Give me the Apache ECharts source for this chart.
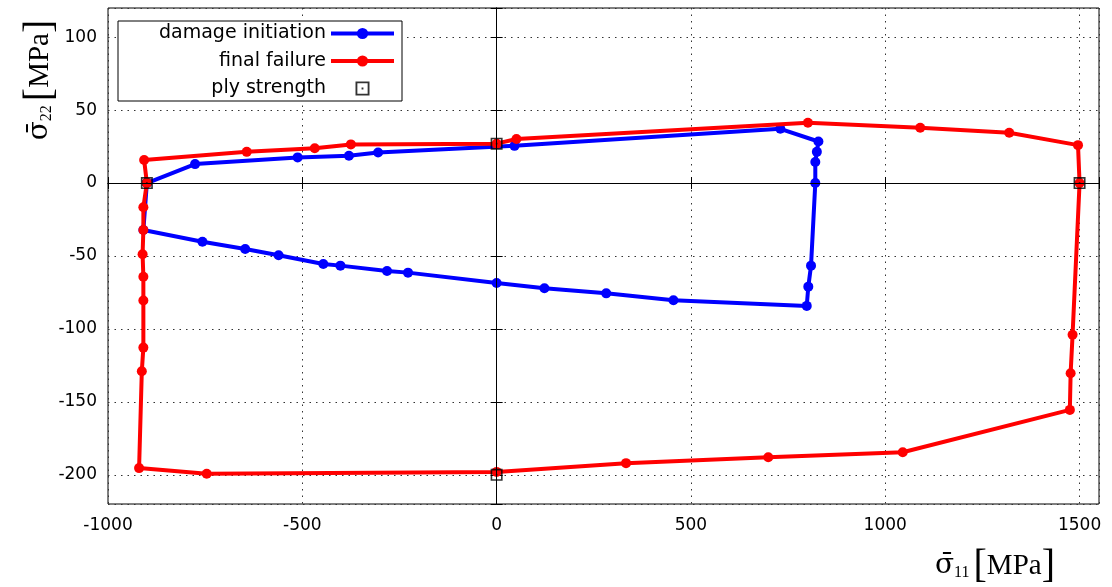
<!DOCTYPE html>
<html><head><meta charset="utf-8">
<script src="https://cdn.jsdelivr.net/npm/echarts@6/dist/echarts.min.js"></script>
<style>html,body{margin:0;padding:0;background:#fff}#c{width:1112px;height:587px}</style>
</head><body><div id="c"></div>
<script>
// ---- data ----
const xTicks = [-1000, -500, 0, 500, 1000, 1500];
const yTicks = [100, 50, 0, -50, -100, -150, -200];
const seriesNames = ['damage initiation', 'final failure', 'ply strength'];

const damageInitiation = [
  [-900,0],[-776,13],[-512,17.6],[-380,18.7],[-305,21],[46,25.5],[730,37.2],
  [828,28.5],[824,21.4],[820,14.4],[820,0],[809,-56.6],[802,-71],[798,-84.2],
  [455,-80.3],[282,-75.6],[123,-72.1],[0,-68.5],[-228,-61.4],[-282,-60.3],
  [-402,-56.6],[-446,-55.5],[-561,-49.5],[-647,-45.2],[-757,-40.2],[-909,-32.2],[-900,0]
];
const finalFailure = [
  [-900,0],[-907,15.8],[-643,21.4],[-468,23.8],[-375,26.5],[0,27],[51,30.2],
  [801,41.3],[1090,37.9],[1319,34.5],[1496,26],[1500,0],[1482,-104],[1477,-130.4],
  [1475,-155.5],[1045,-184.5],[699,-188],[333,-192],[0,-198],[-746,-199.3],
  [-920,-195.4],[-913,-129],[-909,-112.8],[-909,-80.5],[-909,-64.2],[-911,-48.8],
  [-909,-32.2],[-909,-16.6],[-900,0]
];
const plyStrength = [[-900,0],[0,27],[1500,0],[0,-200]];

// ---- chart ----
const chart = echarts.init(document.getElementById('c'), null, {renderer:'canvas'});
const sq = 'path://M0,0L12,0L12,1.6L0,1.6Z M0,10.4L12,10.4L12,12L0,12Z M0,1.6L1.6,1.6L1.6,10.4L0,10.4Z M10.4,1.6L12,1.6L12,10.4L10.4,10.4Z M5.2,5.2L6.8,5.2L6.8,6.8L5.2,6.8Z';
const tickFont = {fontFamily:'DejaVu Sans', fontSize:17, color:'#000'};
const gridDots = {show:true, lineStyle:{color:'#333', type:[1.5,5], width:1}};
const nameRich = {
  sig:{fontFamily:'DejaVu Serif', fontSize:28, color:'#000'},
  sub:{fontFamily:'Liberation Serif', fontSize:16, color:'#000', padding:[14,4,0,0]},
  br:{fontFamily:'Liberation Serif', fontSize:40, color:'#000', fontWeight:'lighter'},
  t:{fontFamily:'Liberation Serif', fontSize:29, color:'#000'}
};

chart.setOption({
  animation:false,
  backgroundColor:'#fff',
  grid:{left:108, right:13, top:8, bottom:83, show:true, borderColor:'#000', borderWidth:1},
  legend:{
    orient:'vertical', left:118, top:21, align:'right',
    padding:[3,6,3,8], itemGap:8.5, itemWidth:63, itemHeight:14,
    backgroundColor:'#fff', borderColor:'#000', borderWidth:1,
    lineStyle:{width:4},
    textStyle:{fontFamily:'DejaVu Sans', fontSize:19, lineHeight:19, color:'#000', width:200, align:'right'},
    data:seriesNames
  },
  xAxis:[
    {type:'value', min:-1000, max:1550, interval:500, position:'bottom',
     axisLine:{show:true, lineStyle:{color:'#000', width:1}},
     axisTick:{show:true, inside:true, length:6, lineStyle:{color:'#000'}},
     axisLabel:Object.assign({margin:13, formatter:v => xTicks.includes(v) ? String(v) : ''}, tickFont),
     splitLine:gridDots},
    {type:'value', min:-1000, max:1550, interval:500, position:'top',
     axisLine:{show:true, lineStyle:{color:'#000', width:1}},
     axisTick:{show:true, inside:true, length:6, lineStyle:{color:'#000'}},
     axisLabel:{show:false}, splitLine:{show:false}}
  ],
  yAxis:[
    {type:'value', min:-220, max:120, splitNumber:7, position:'left',
     axisLine:{show:true, lineStyle:{color:'#000', width:1}},
     axisTick:{show:true, inside:true, length:6, lineStyle:{color:'#000'}},
     axisLabel:Object.assign({margin:11, formatter:v => yTicks.includes(v) ? String(v) : ''}, tickFont),
     splitLine:gridDots},
    {type:'value', min:-220, max:120, splitNumber:7, position:'right',
     axisLine:{show:true, lineStyle:{color:'#000', width:1}},
     axisTick:{show:true, inside:true, length:6, lineStyle:{color:'#000'}},
     axisLabel:{show:false}, splitLine:{show:false}}
  ],
  graphic:[
    {type:'text', x:935, y:566, z:10, style:{
      text:'{sig|σ\u0304}{sub|11}{br|[}{t|MPa}{br|]}', rich:nameRich, align:'left', verticalAlign:'middle'}},
    {type:'text', x:40, y:80, rotation:Math.PI/2, z:10, style:{
      text:'{sig|σ\u0304}{sub|22}{br|[}{t|MPa}{br|]}', rich:nameRich, align:'center', verticalAlign:'middle'}}
  ],
  series:[
    {type:'line', name:'_zero', data:[], z:1, silent:true,
     markLine:{silent:true, symbol:'none', label:{show:false}, animation:false,
       lineStyle:{color:'#000', type:'solid', width:1},
       data:[{xAxis:0},{yAxis:0}]}},
    {type:'line', name:seriesNames[0], data:damageInitiation, z:3,
     symbol:'circle', symbolSize:10, showSymbol:true,
     lineStyle:{color:'#0000ff', width:4}, itemStyle:{color:'#0000ff'}},
    {type:'line', name:seriesNames[1], data:finalFailure, z:4,
     symbol:'circle', symbolSize:10, showSymbol:true,
     lineStyle:{color:'#ff0000', width:4}, itemStyle:{color:'#ff0000'}},
    {type:'scatter', name:seriesNames[2], data:plyStrength, z:5,
     symbol:sq, symbolSize:12, symbolKeepAspect:true, itemStyle:{color:'#000'}}
  ]
});
</script></body></html>
